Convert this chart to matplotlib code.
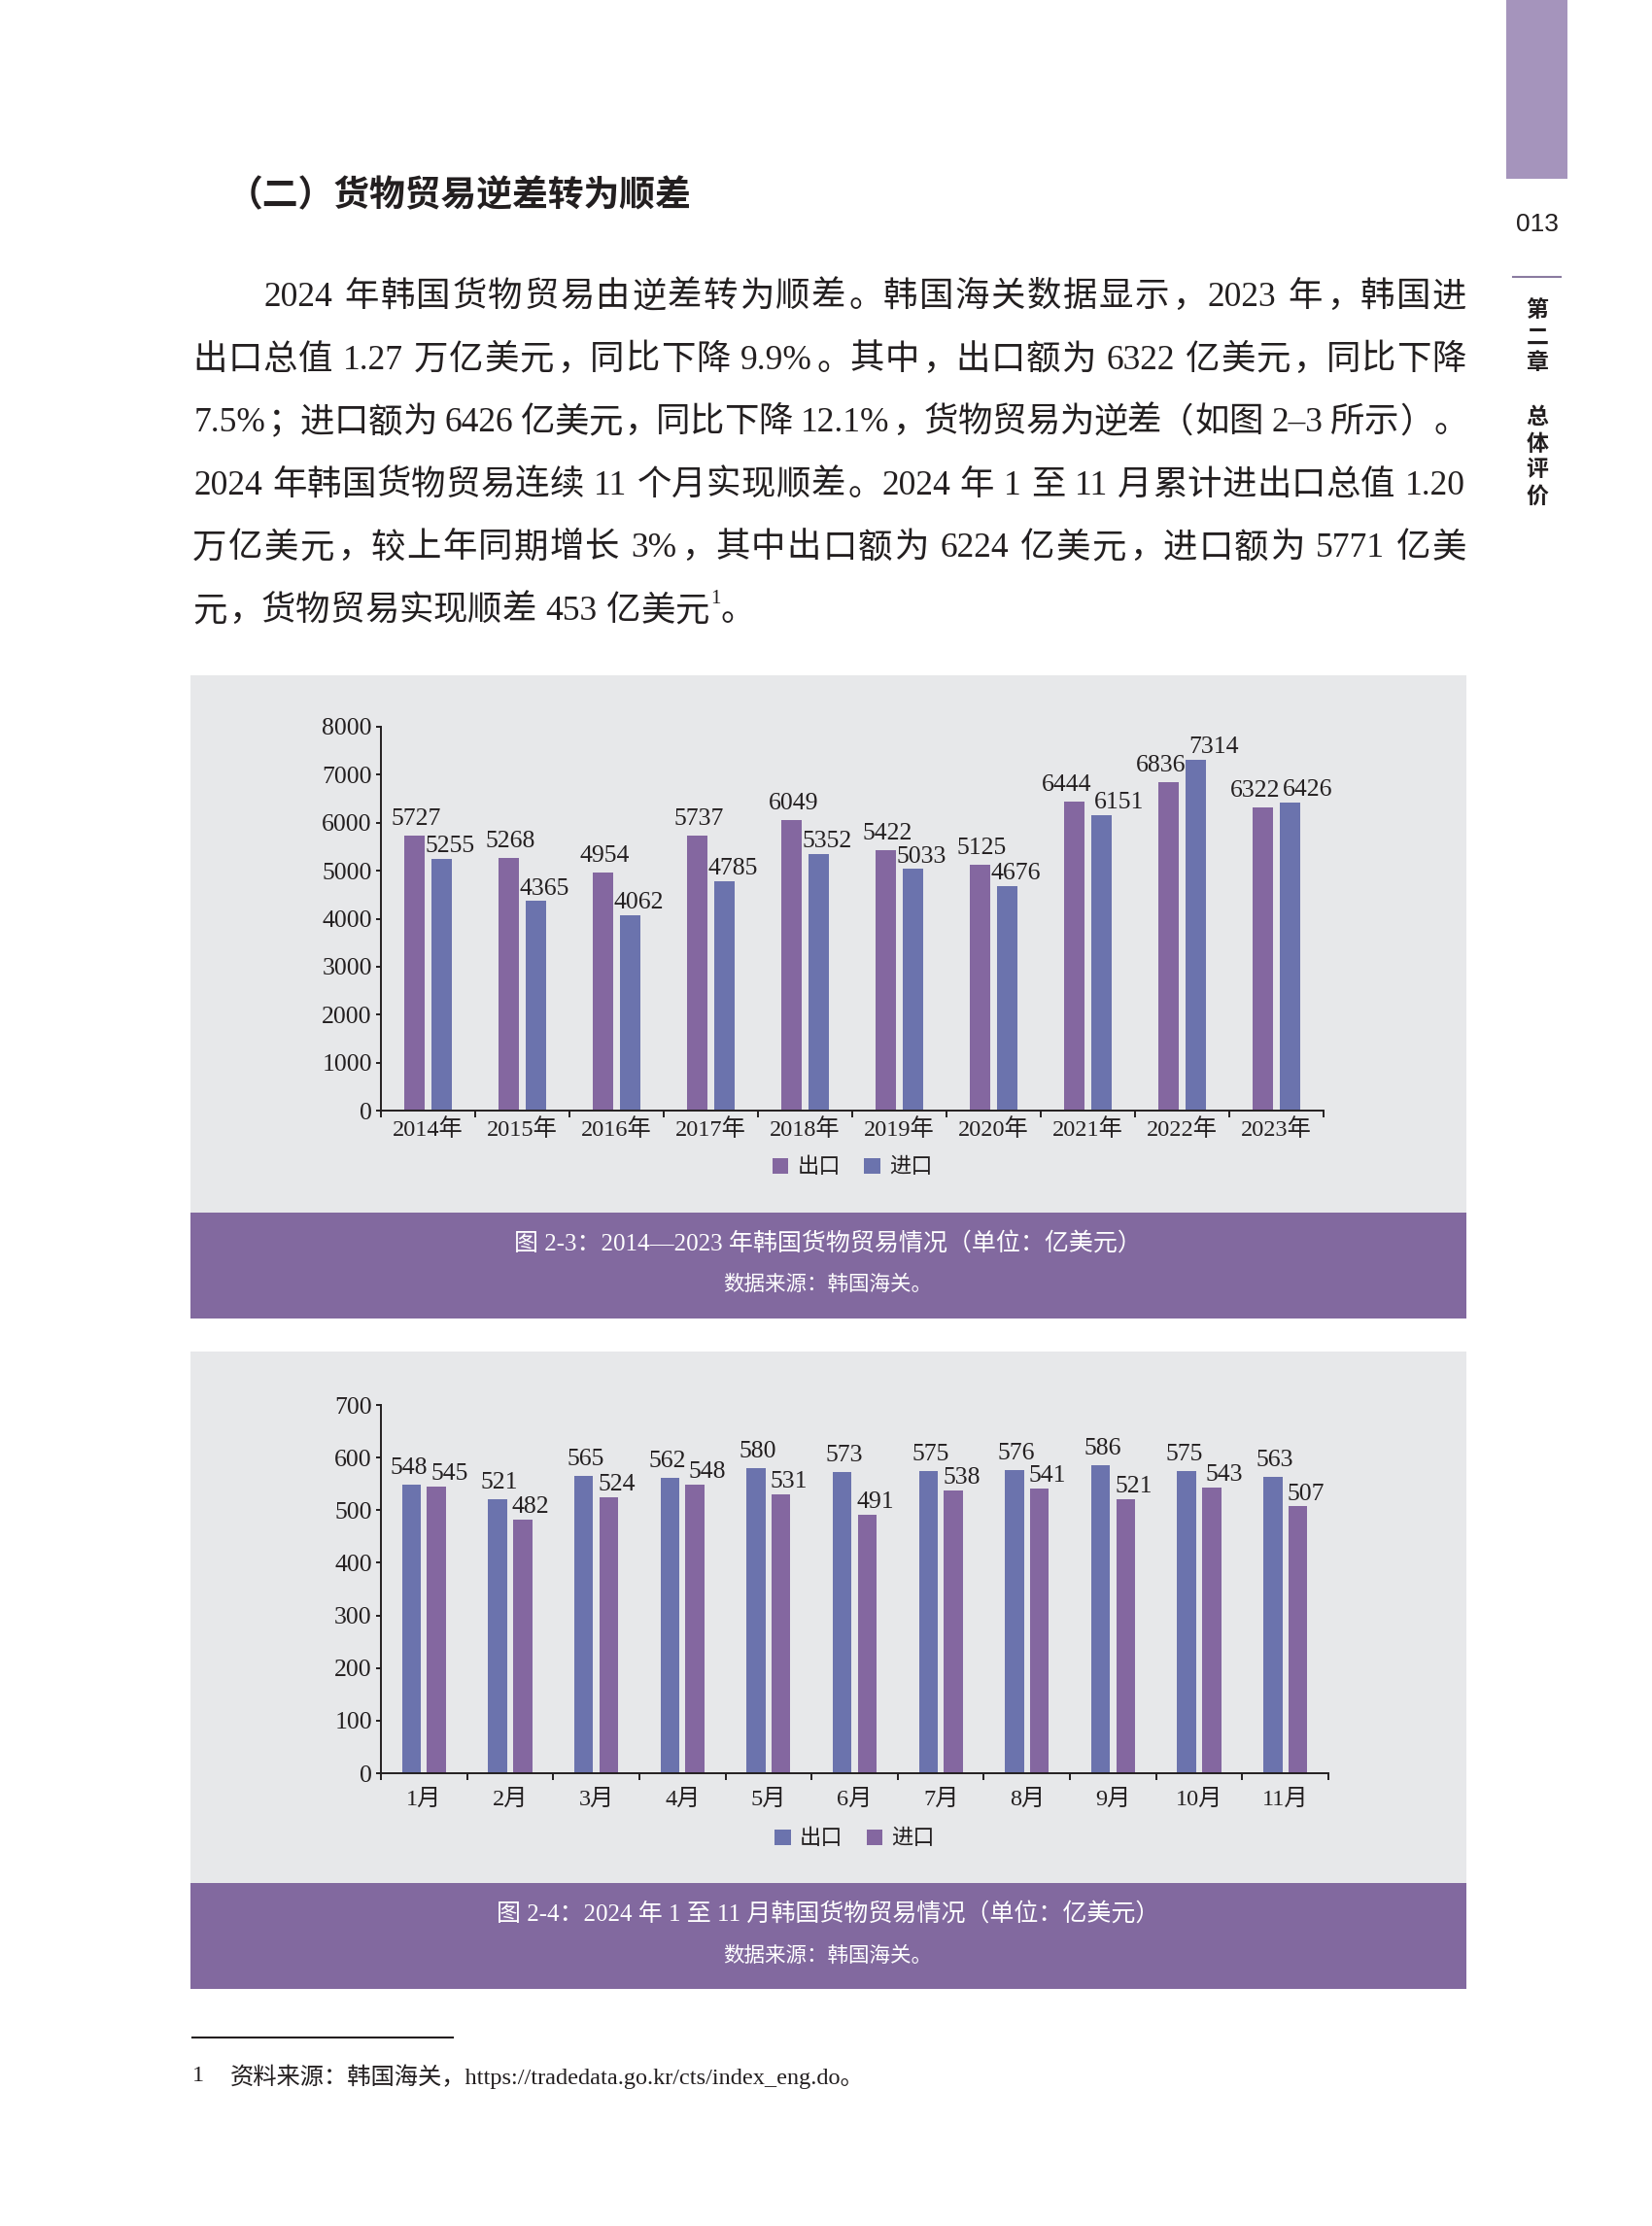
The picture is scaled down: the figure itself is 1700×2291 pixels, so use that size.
import numpy as np
import matplotlib
matplotlib.use("Agg")
import matplotlib.pyplot as plt
from matplotlib.patches import Rectangle

W, H = 1700, 2291

# chart data
years = ["2014年", "2015年", "2016年", "2017年", "2018年",
         "2019年", "2020年", "2021年", "2022年", "2023年"]
export_year = [5727, 5268, 4954, 5737, 6049, 5422, 5125, 6444, 6836, 6322]
import_year = [5255, 4365, 4062, 4785, 5352, 5033, 4676, 6151, 7314, 6426]

months = ["1月", "2月", "3月", "4月", "5月", "6月",
          "7月", "8月", "9月", "10月", "11月"]
export_month = [548, 521, 565, 562, 580, 573, 575, 576, 586, 575, 563]
import_month = [545, 482, 524, 548, 531, 491, 538, 541, 521, 543, 507]

series_names = ["出口", "进口"]

# page text
heading = "（二）货物贸易逆差转为顺差"
body_lines = [
    "2024 年韩国货物贸易由逆差转为顺差。韩国海关数据显示，2023 年，韩国进",
    "出口总值 1.27 万亿美元，同比下降 9.9%。其中，出口额为 6322 亿美元，同比下降",
    "7.5%；进口额为 6426 亿美元，同比下降 12.1%，货物贸易为逆差（如图 2–3 所示）。",
    "2024 年韩国货物贸易连续 11 个月实现顺差。2024 年 1 至 11 月累计进出口总值 1.20",
    "万亿美元，较上年同期增长 3%，其中出口额为 6224 亿美元，进口额为 5771 亿美",
    "元，货物贸易实现顺差 453 亿美元",
]
caption_1 = "图 2-3：2014—2023 年韩国货物贸易情况（单位：亿美元）"
caption_2 = "图 2-4：2024 年 1 至 11 月韩国货物贸易情况（单位：亿美元）"
source = "数据来源：韩国海关。"
footnote = "资料来源：韩国海关，https://tradedata.go.kr/cts/index_eng.do。"
page_no = "013"
side_chars = ["第", "二", "章", "总", "体", "评", "价"]

PURPLE = "#8467a0"
BLUE = "#6b73ad"
BAND = "#82699f"
TAB = "#a594bc"
PANEL = "#e7e8ea"
INK = "#231f20"

SERIF = ["Liberation Serif", "Noto Sans CJK SC"]
SANS = ["Noto Sans CJK SC", "DejaVu Sans"]
plt.rcParams["font.family"] = SERIF
plt.rcParams["text.color"] = INK
plt.rcParams["axes.edgecolor"] = INK
plt.rcParams["xtick.color"] = INK
plt.rcParams["ytick.color"] = INK

fig = plt.figure(figsize=(W / 100, H / 100), dpi=100)
page = fig.add_axes([0, 0, 1, 1])
page.set_xlim(0, W)
page.set_ylim(H, 0)
page.axis("off")
renderer = fig.canvas.get_renderer()


def text_width(s, size):
    t = page.text(0, 0, s, fontsize=size)
    w = t.get_window_extent(renderer).width
    t.remove()
    return w


def is_cjk(c):
    return ord(c) >= 0x2e80


def set_line(line, x0, x1, y, size, justify=True):
    '''lays out one line of body text, spreading the slack over all gaps'''
    em = size * 100 / 72
    items = []
    word = ""
    for c in line + "\n":
        if c in " \n" or is_cjk(c):
            if word:
                items.append(("w", word, text_width(word, size) + 0.08 * em))
                word = ""
            if c == " ":
                items.append(("s", c, 0.22 * em))
            elif c != "\n":
                items.append(("c", c, em))
        else:
            word += c
    natural = sum(w for _, _, w in items)
    extra = (x1 - x0 - natural) / (len(items) - 1) if justify else 0
    x = x0
    for kind, s, w in items:
        if kind == "w":
            page.text(x + 0.04 * em, y, s, fontsize=size, ha="left", va="baseline")
        elif kind == "c":
            if s in "，。；：、）":
                page.text(x + 0.06 * em, y, s, fontsize=size, ha="left", va="baseline")
            elif s == "（":
                page.text(x + w - 0.06 * em, y, s, fontsize=size, ha="right", va="baseline")
            else:
                page.text(x + w / 2, y, s, fontsize=size, ha="center", va="baseline")
        x += w + extra
    return x


def spread_labels(pairs, gap=3):
    '''pushes the two value labels of a group apart when they collide'''
    for a, b in pairs:
        ba = a.get_window_extent(renderer)
        bb = b.get_window_extent(renderer)
        if ba.y0 < bb.y1 and bb.y0 < ba.y1 and ba.x1 + gap > bb.x0:
            shift = (ba.x1 + gap - bb.x0) / 2 * 72 / 100
            a.xyann = (a.xyann[0] - shift, a.xyann[1])
            b.xyann = (b.xyann[0] + shift, b.xyann[1])


def bar_chart(left, top, right, bottom, cats, first, second, colors,
              ymax, ystep, xpad, legend_y):
    ax = fig.add_axes([left / W, 1 - bottom / H, (right - left) / W, (bottom - top) / H])
    ax.set_facecolor("none")
    n = len(cats)
    x = np.arange(n)
    bars = []
    labels = []
    for vals, off, col, dx, dy in [(first, 0.355, colors[0], 1.5, 8),
                                   (second, 0.645, colors[1], 6, 5)]:
        b = ax.bar(x + off, vals, 0.22, color=col)
        bars.append(b)
        labels.append([ax.annotate(str(v), (xi, v), xytext=(dx, dy),
                                   textcoords="offset points", ha="center",
                                   va="baseline", fontsize=18.5)
                       for xi, v in zip(x + off, vals)])
    ax.set_xlim(0, n)
    ax.set_ylim(0, ymax)
    ax.set_yticks(np.arange(0, ymax + 1, ystep))
    ax.set_xticks(np.arange(n + 1))
    ax.set_xticklabels([])
    ax.set_xticks(x + 0.5, minor=True)
    ax.set_xticklabels(cats, minor=True)
    ax.tick_params(axis="x", which="major", length=5, width=1.4, direction="out")
    ax.tick_params(axis="x", which="minor", length=0, pad=xpad, labelsize=17.5)
    ax.tick_params(axis="y", length=3.6, width=1.4, pad=3, labelsize=18.5)
    for side in ["top", "right"]:
        ax.spines[side].set_visible(False)
    for side in ["left", "bottom"]:
        ax.spines[side].set_linewidth(1.4)
    spread_labels(zip(labels[0], labels[1]))
    frac = (bottom - legend_y) / (bottom - top)
    ax.legend(bars, series_names, loc="center", bbox_to_anchor=(0.5, frac), ncol=2,
              frameon=False, fontsize=16, handlelength=0.75, handleheight=0.75,
              handletextpad=0.4, columnspacing=1.1)
    return ax


# right margin: tab, page number, chapter name
page.add_patch(Rectangle((1550, 0), 63, 184, color=TAB, lw=0))
page.text(1582, 231, page_no, family=["Liberation Sans"], fontsize=19, ha="center", va="center")
page.plot([1557, 1606], [285, 285], color="#8a7ba0", lw=1.5)
for ch, yy in zip(side_chars, [320, 347, 374, 430, 457, 484, 511]):
    page.text(1582, yy, ch, family=SANS, fontweight="bold", fontsize=16.5, ha="center", va="center")

# heading and paragraph
page.text(234, 202, heading, family=SANS, fontweight="bold", fontsize=26.5, ha="left", va="center")
for i, line in enumerate(body_lines):
    base = 315 + i * 64.6
    if i == 0:
        set_line(line, 270, 1509, base, 25.5)
    elif i == len(body_lines) - 1:
        end = set_line(line, 198, None, base, 25.5, justify=False)
        page.text(end + 1, base - 17, "1", fontsize=15, ha="left", va="baseline")
        page.text(end + 12, base, "。", fontsize=25.5, ha="left", va="baseline")
    else:
        set_line(line, 198, 1509, base, 25.5)

# figure panels
page.add_patch(Rectangle((196, 695), 1313, 553, color=PANEL, lw=0))
page.add_patch(Rectangle((196, 1248), 1313, 109, color=BAND, lw=0))
page.text(852, 1280, caption_1, color="white", fontsize=18, ha="center", va="center")
page.text(852, 1323, source, color="white", fontsize=15.5, ha="center", va="center")

page.add_patch(Rectangle((196, 1391), 1313, 547, color=PANEL, lw=0))
page.add_patch(Rectangle((196, 1938), 1313, 109, color=BAND, lw=0))
page.text(852, 1970, caption_2, color="white", fontsize=18, ha="center", va="center")
page.text(852, 2014, source, color="white", fontsize=15.5, ha="center", va="center")

bar_chart(392, 748, 1362, 1143, years, export_year, import_year, [PURPLE, BLUE],
          8000, 1000, 6, 1202)
bar_chart(392, 1446, 1367, 1825, months, export_month, import_month, [BLUE, PURPLE],
          700, 100, 12, 1893)

# footnote
page.plot([198, 466], [2097, 2097], color=INK, lw=1.5)
page.text(198, 2137, "1", fontsize=17.5, ha="left", va="center")
page.text(237, 2137, footnote, fontsize=17.5, ha="left", va="center")

fig.savefig("out.png", dpi=100, facecolor="white")
